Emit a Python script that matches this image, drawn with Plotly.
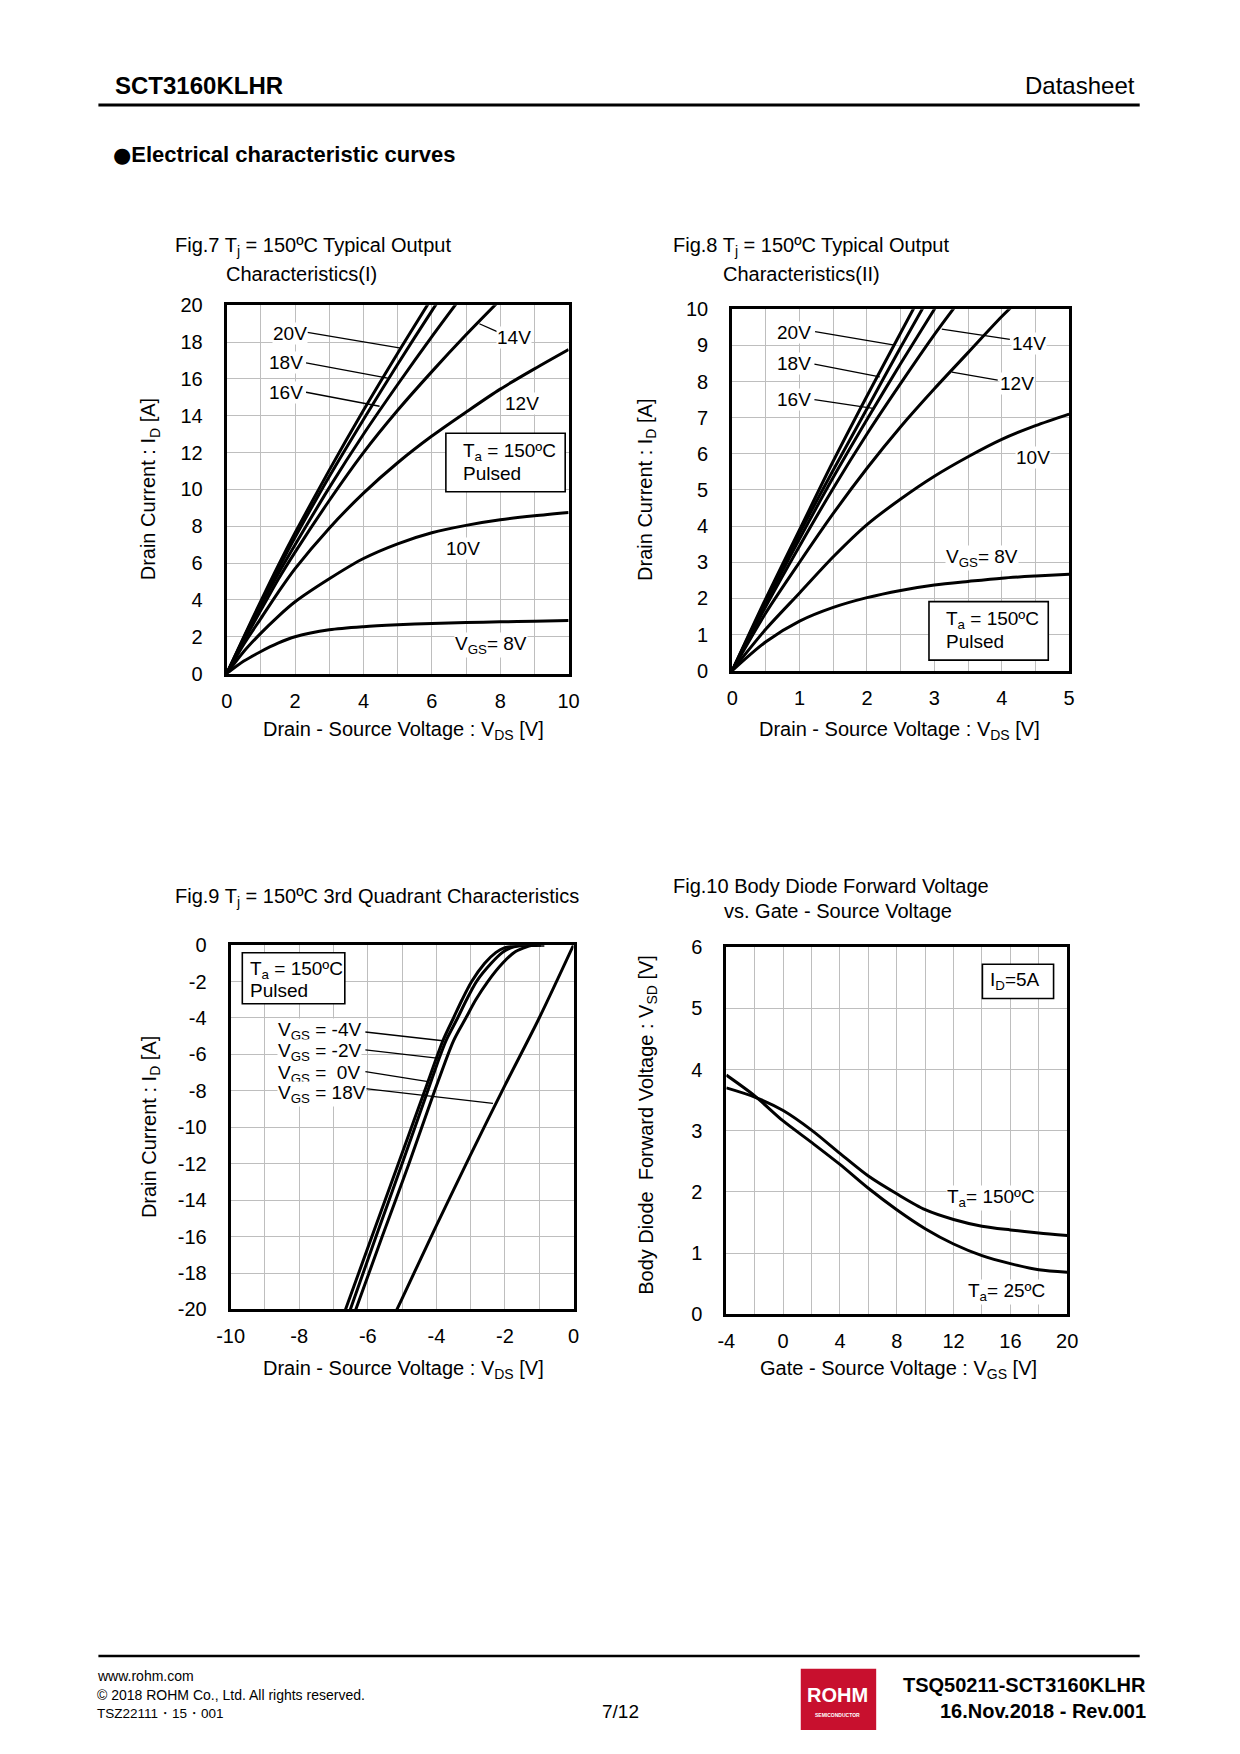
import plotly.graph_objects as go

# page coordinates are given in reference pixels (1240 x 1754); the figure is
# slightly smaller so that it fits the window together with the body margin.
PAGE_W, PAGE_H = 1240, 1754
M = 8
W, H = PAGE_W - 2 * M, PAGE_H - 2 * M
FONT = "Liberation Sans, Arial, Helvetica, sans-serif"
GRID = "#bebebe"

# ---------------- Data ----------------
# Fig.7  (VDS 0..10 V, ID 0..20 A)
f7_v_full = [0, 0.5, 1, 1.5, 2, 3, 4, 5, 6, 7, 8, 9, 10]
f7_id_8v = [0, 0.68, 1.2, 1.65, 2.0, 2.38, 2.55, 2.65, 2.72, 2.77, 2.81, 2.85, 2.88]
f7_id_10v = [0, 1.2, 2.2, 3.1, 3.9, 5.15, 6.25, 7.05, 7.65, 8.05, 8.35, 8.57, 8.75]
f7_id_12v = [0, 1.6, 3.0, 4.4, 5.7, 7.9, 9.8, 11.45, 12.9, 14.2, 15.45, 16.55, 17.6]
f7_v_14v = [0, 0.5, 1, 1.5, 2, 3, 4, 5, 6, 7, 8]
f7_id_14v = [0, 1.78, 3.45, 5.1, 6.6, 9.4, 12.0, 14.3, 16.4, 18.4, 20.3]
f7_v_16v = [0, 0.5, 1, 1.5, 2, 3, 4, 5, 6, 7]
f7_id_16v = [0, 1.88, 3.7, 5.4, 7.0, 10.1, 13.0, 15.7, 18.3, 20.8]
f7_v_18v = [0, 0.5, 1, 1.5, 2, 3, 4, 5, 6, 7]
f7_id_18v = [0, 1.95, 3.85, 5.65, 7.4, 10.7, 13.8, 16.8, 19.7, 22.5]
f7_v_20v = [0, 0.5, 1, 1.5, 2, 3, 4, 5, 6]
f7_id_20v = [0, 2.0, 3.95, 5.85, 7.65, 11.05, 14.3, 17.4, 20.4]
f7_xticks = [0, 2, 4, 6, 8, 10]
f7_xlabels = ["0", "2", "4", "6", "8", "10"]
f7_yticks = [0, 2, 4, 6, 8, 10, 12, 14, 16, 18, 20]
f7_ylabels = ["0", "2", "4", "6", "8", "10", "12", "14", "16", "18", "20"]

# Fig.8  (VDS 0..5 V, ID 0..10 A)
f8_v_full = [0, 0.5, 1, 1.5, 2, 2.5, 3, 3.5, 4, 4.5, 5]
f8_id_8v = [0, 0.8, 1.37, 1.75, 2.02, 2.22, 2.37, 2.47, 2.56, 2.62, 2.67]
f8_id_10v = [0, 1.15, 2.15, 3.15, 4.04, 4.75, 5.38, 5.92, 6.40, 6.78, 7.1]
f8_v_12v = [0, 0.5, 1, 1.5, 2, 2.5, 3, 3.5, 4, 4.5]
f8_id_12v = [0, 1.6, 3.0, 4.35, 5.6, 6.75, 7.8, 8.8, 9.8, 10.7]
f8_v_14v = [0, 0.5, 1, 1.5, 2, 2.5, 3, 3.5]
f8_id_14v = [0, 1.78, 3.45, 5.05, 6.55, 7.95, 9.3, 10.55]
f8_v_16v = [0, 0.5, 1, 1.5, 2, 2.5, 3, 3.5]
f8_id_16v = [0, 1.88, 3.65, 5.35, 6.95, 8.5, 10.0, 11.5]
f8_v_18v = [0, 0.5, 1, 1.5, 2, 2.5, 3]
f8_id_18v = [0, 1.95, 3.8, 5.55, 7.25, 8.95, 10.6]
f8_v_20v = [0, 0.5, 1, 1.5, 2, 2.5, 3]
f8_id_20v = [0, 2.0, 3.9, 5.8, 7.6, 9.35, 11.1]
f8_xticks = [0, 1, 2, 3, 4, 5]
f8_xlabels = ["0", "1", "2", "3", "4", "5"]
f8_yticks = [0, 1, 2, 3, 4, 5, 6, 7, 8, 9, 10]
f8_ylabels = ["0", "1", "2", "3", "4", "5", "6", "7", "8", "9", "10"]

# Fig.9  3rd quadrant (VDS -10..0 V, ID -20..0 A)
f9_v_m4v = [-1.05, -1.45, -1.75, -2.02, -2.26, -2.59, -2.97, -3.25, -3.50, -3.81, -4.34, -5.11, -5.88, -6.65]
f9_id_m4v = [0, -0.01, -0.05, -0.15, -0.4, -1, -2, -3, -4, -5.25, -8, -12, -16, -20]
f9_v_m2v = [-0.95, -1.35, -1.6, -1.83, -2.07, -2.40, -2.83, -3.12, -3.38, -3.72, -3.92, -4.25, -5.0, -5.76, -6.51]
f9_id_m2v = [0, -0.01, -0.05, -0.15, -0.4, -1, -2, -3, -4, -5.25, -6.22, -8, -12, -16, -20]
f9_v_0v = [-0.85, -1.15, -1.3, -1.45, -1.73, -2.07, -2.5, -2.85, -3.14, -3.5, -4.05, -4.8, -5.58, -6.35]
f9_id_0v = [0, -0.01, -0.05, -0.15, -0.4, -1, -2, -3, -4, -5.25, -8, -12, -16, -20]
f9_v_18v = [0, -1, -2, -3, -4, -5, -5.3]
f9_id_18v = [0, -4.0, -7.7, -11.5, -15.4, -19.4, -20.6]
f9_xticks = [-10, -8, -6, -4, -2, 0]
f9_xlabels = ["-10", "-8", "-6", "-4", "-2", "0"]
f9_yticks = [0, -2, -4, -6, -8, -10, -12, -14, -16, -18, -20]
f9_ylabels = ["0", "-2", "-4", "-6", "-8", "-10", "-12", "-14", "-16", "-18", "-20"]

# Fig.10  VSD vs VGS
f10_vgs = [-4, -2, 0, 2, 4, 6, 8, 10, 12, 14, 16, 18, 20]
f10_vsd_25c = [3.91, 3.57, 3.16, 2.81, 2.45, 2.06, 1.71, 1.40, 1.15, 0.96, 0.83, 0.73, 0.69]
f10_vsd_150c = [3.70, 3.55, 3.33, 3.01, 2.63, 2.26, 1.97, 1.71, 1.55, 1.44, 1.38, 1.33, 1.29]
f10_xticks = [-4, 0, 4, 8, 12, 16, 20]
f10_xlabels = ["-4", "0", "4", "8", "12", "16", "20"]
f10_yticks = [0, 1, 2, 3, 4, 5, 6]
f10_ylabels = ["0", "1", "2", "3", "4", "5", "6"]

# ---------------- Layout helpers ----------------
def px(x):
    return (x - M) / W

def py(y):
    return 1 - (y - M) / H

annotations = []
shapes = []

def ptext(x, y, text, size=20, xanchor="left", angle=0, color="black"):
    annotations.append(dict(xref="paper", yref="paper", x=px(x), y=py(y), text=text,
                            showarrow=False, xanchor=xanchor, yanchor="middle",
                            textangle=angle, font=dict(family=FONT, size=size, color=color)))

def dtext(ax, x, y, text, size=19, xanchor="center", bg="white"):
    annotations.append(dict(xref="x" + ax, yref="y" + ax, x=x, y=y, text=text,
                            showarrow=False, xanchor=xanchor, yanchor="middle",
                            bgcolor=bg, borderpad=0,
                            font=dict(family=FONT, size=size, color="black")))

def dline(ax, x0, y0, x1, y1, w=1.3):
    shapes.append(dict(type="line", xref="x" + ax, yref="y" + ax, x0=x0, y0=y0, x1=x1, y1=y1,
                       line=dict(color="black", width=w)))

def dbox(ax, x0, y0, x1, y1):
    shapes.append(dict(type="rect", xref="x" + ax, yref="y" + ax, x0=x0, y0=y0, x1=x1, y1=y1,
                       line=dict(color="black", width=1.6), fillcolor="white"))

fig = go.Figure()

def curve(ax, xs, ys):
    fig.add_trace(go.Scatter(x=xs, y=ys, mode="lines", xaxis="x" + ax, yaxis="y" + ax,
                             line=dict(color="black", width=3, shape="spline", smoothing=0.8),
                             showlegend=False, hoverinfo="skip"))

# Fig 7
curve("", f7_v_full, f7_id_8v)
curve("", f7_v_full, f7_id_10v)
curve("", f7_v_full, f7_id_12v)
curve("", f7_v_14v, f7_id_14v)
curve("", f7_v_16v, f7_id_16v)
curve("", f7_v_18v, f7_id_18v)
curve("", f7_v_20v, f7_id_20v)
# Fig 8
curve("2", f8_v_full, f8_id_8v)
curve("2", f8_v_full, f8_id_10v)
curve("2", f8_v_12v, f8_id_12v)
curve("2", f8_v_14v, f8_id_14v)
curve("2", f8_v_16v, f8_id_16v)
curve("2", f8_v_18v, f8_id_18v)
curve("2", f8_v_20v, f8_id_20v)
# Fig 9
curve("3", f9_v_m4v, f9_id_m4v)
curve("3", f9_v_m2v, f9_id_m2v)
curve("3", f9_v_0v, f9_id_0v)
curve("3", f9_v_18v, f9_id_18v)
# Fig 10
curve("4", f10_vgs, f10_vsd_25c)
curve("4", f10_vgs, f10_vsd_150c)

def xax(dom, rng, tv, tt, minor, anchor):
    return dict(domain=[px(dom[0]), px(dom[1])], range=rng, anchor=anchor,
                tickmode="array", tickvals=tv, ticktext=tt,
                showline=True, mirror=True, linecolor="black", linewidth=3,
                showgrid=True, gridcolor=GRID, gridwidth=1, zeroline=False,
                minor=dict(tickmode="linear", tick0=0, dtick=minor, showgrid=True,
                           gridcolor=GRID, gridwidth=1, ticks=""),
                ticks="", ticklabelstandoff=7,
                tickfont=dict(family=FONT, size=20, color="black"), fixedrange=True)

def yax(dom, rng, tv, tt, anchor):
    return dict(domain=[py(dom[1]), py(dom[0])], range=rng, anchor=anchor,
                tickmode="array", tickvals=tv, ticktext=tt,
                showline=True, mirror=True, linecolor="black", linewidth=3,
                showgrid=True, gridcolor=GRID, gridwidth=1, zeroline=False,
                ticks="", ticklabelstandoff=17,
                tickfont=dict(family=FONT, size=20, color="black"), fixedrange=True)

# plot rectangles in page pixels (left, right, top, bottom)
F7 = (217, 566, 298, 671)
F8 = (733, 1077, 302, 668)
F9 = (221, 571, 946, 1315)
F10 = (727, 1075, 948, 1320)

layout = dict(
    width=W, height=H, margin=dict(l=0, r=0, t=0, b=0),
    paper_bgcolor="white", plot_bgcolor="white", showlegend=False,
    xaxis=xax(F7[:2], [0, 10], f7_xticks, f7_xlabels, 1, "y"),
    yaxis=yax(F7[2:], [0, 20], f7_yticks, f7_ylabels, "x"),
    xaxis2=xax(F8[:2], [0, 5], f8_xticks, f8_xlabels, 0.5, "y2"),
    yaxis2=yax(F8[2:], [0, 10], f8_yticks, f8_ylabels, "x2"),
    xaxis3=xax(F9[:2], [-10, 0], f9_xticks, f9_xlabels, 1, "y3"),
    yaxis3=yax(F9[2:], [-20, 0], f9_yticks, f9_ylabels, "x3"),
    xaxis4=xax(F10[:2], [-4, 20], f10_xticks, f10_xlabels, 2, "y4"),
    yaxis4=yax(F10[2:], [0, 6], f10_yticks, f10_ylabels, "x4"),
)

# ---------------- Page header / footer ----------------
ptext(101, 75, "<b>SCT3160KLHR</b>", 24)
ptext(1146, 75, "Datasheet", 24, xanchor="right")
shapes.append(dict(type="line", xref="paper", yref="paper", x0=px(86), x1=px(1149), y0=py(95), y1=py(95),
                   line=dict(color="black", width=3)))
ptext(99, 145, "<span style='font-family:DejaVu Sans;font-size:21px'>●</span><b>Electrical characteristic curves</b>", 22)

shapes.append(dict(type="line", xref="paper", yref="paper", x0=px(86), x1=px(1149), y0=py(1666), y1=py(1666),
                   line=dict(color="black", width=2.5)))
ptext(83, 1686, "www.rohm.com", 14)
ptext(83, 1705, "© 2018 ROHM Co., Ltd. All rights reserved.", 14)
ptext(83, 1724, "TSZ22111・15・001", 13.5)
ptext(619, 1722, "7/12", 19, xanchor="center")
shapes.append(dict(type="rect", xref="paper", yref="paper", x0=px(803), x1=px(880), y0=py(1741), y1=py(1679),
                   line=dict(width=0), fillcolor="#c8102e"))
ptext(841, 1705, "<b>ROHM</b>", 20, xanchor="center", color="white")
ptext(841, 1726, "<b>SEMICONDUCTOR</b>", 5, xanchor="center", color="white")
ptext(1157, 1695, "<b>TSQ50211-SCT3160KLHR</b>", 20, xanchor="right")
ptext(1157, 1722, "<b>16.Nov.2018 - Rev.001</b>", 20, xanchor="right")

# ---------------- Fig 7 texts ----------------
ptext(162, 238, "Fig.7 T<sub>j</sub> = 150ºC Typical Output", 20)
ptext(214, 266, "Characteristics(I)", 20)
ptext(139, 484, "Drain Current : I<sub>D</sub> [A]", 20, xanchor="center", angle=-90)
ptext(397, 729, "Drain - Source Voltage : V<sub>DS</sub> [V]", 20, xanchor="center")
dline("", 2.36, 18.53, 5.09, 17.67)
dline("", 2.32, 16.87, 4.71, 16.05)
dline("", 2.32, 15.28, 4.47, 14.52)
dline("", 7.39, 19.0, 7.91, 18.57)
dtext("", 1.84, 18.49, "20V")
dtext("", 1.74, 16.87, "18V")
dtext("", 1.74, 15.24, "16V")
dtext("", 8.41, 18.24, "14V")
dtext("", 8.63, 14.67, "12V")
dtext("", 6.91, 6.78, "10V")
dtext("", 7.72, 1.53, "V<sub>GS</sub>= 8V")
dbox("", 6.41, 9.88, 9.90, 13.05)
dtext("", 6.88, 12.03, "T<sub>a</sub> = 150ºC", xanchor="left", bg=None)
dtext("", 6.88, 10.89, "Pulsed", xanchor="left", bg=None)

# ---------------- Fig 8 texts ----------------
ptext(671, 238, "Fig.8 T<sub>j</sub> = 150ºC Typical Output", 20)
ptext(722, 266, "Characteristics(II)", 20)
ptext(646, 485, "Drain Current : I<sub>D</sub> [A]", 20, xanchor="center", angle=-90)
ptext(904, 729, "Drain - Source Voltage : V<sub>DS</sub> [V]", 20, xanchor="center")
dline("2", 1.23, 9.38, 2.41, 9.01)
dline("2", 1.22, 8.48, 2.19, 8.13)
dline("2", 1.22, 7.50, 2.09, 7.26)
dline("2", 3.11, 9.45, 4.12, 9.17)
dline("2", 3.26, 8.26, 3.94, 8.04)
dtext("2", 0.91, 9.36, "20V")
dtext("2", 0.91, 8.50, "18V")
dtext("2", 0.91, 7.50, "16V")
dtext("2", 4.40, 9.04, "14V")
dtext("2", 4.23, 7.95, "12V")
dtext("2", 4.47, 5.91, "10V")
dtext("2", 3.70, 3.11, "V<sub>GS</sub>= 8V")
dbox("2", 2.92, 0.29, 4.69, 1.91)
dtext("2", 3.16, 1.39, "T<sub>a</sub> = 150ºC", xanchor="left", bg=None)
dtext("2", 3.16, 0.80, "Pulsed", xanchor="left", bg=None)

# ---------------- Fig 9 texts ----------------
ptext(162, 898, "Fig.9 T<sub>j</sub> = 150ºC 3rd Quadrant Characteristics", 20)
ptext(139, 1130, "Drain Current : I<sub>D</sub> [A]", 20, xanchor="center", angle=-90)
ptext(397, 1376, "Drain - Source Voltage : V<sub>DS</sub> [V]", 20, xanchor="center")
dbox("3", -9.66, -3.22, -6.67, -0.42)
dtext("3", -9.47, -1.39, "T<sub>a</sub> = 150ºC", xanchor="left", bg=None)
dtext("3", -9.47, -2.47, "Pulsed", xanchor="left", bg=None)
dline("3", -6.07, -4.77, -3.81, -5.25)
dline("3", -6.07, -5.75, -3.92, -6.22)
dline("3", -6.07, -6.95, -4.24, -7.49)
dline("3", -6.07, -7.88, -2.35, -8.69)
dtext("3", -8.64, -4.71, "V<sub>GS</sub> = -4V", xanchor="left")
dtext("3", -8.64, -5.85, "V<sub>GS</sub> = -2V", xanchor="left")
dtext("3", -8.64, -7.05, "V<sub>GS</sub> =  0V", xanchor="left")
dtext("3", -8.64, -8.15, "V<sub>GS</sub> = 18V", xanchor="left")

# ---------------- Fig 10 texts ----------------
ptext(671, 886, "Fig.10 Body Diode Forward Voltage", 20)
ptext(723, 911, "vs. Gate - Source Voltage", 20)
ptext(647, 1128, "Body Diode\u00a0\u00a0Forward Voltage : V<sub>SD</sub> [V]", 20, xanchor="center", angle=-90)
ptext(903, 1376, "Gate - Source Voltage : V<sub>GS</sub> [V]", 20, xanchor="center")
dbox("4", 14.03, 5.16, 19.04, 5.72)
dtext("4", 14.49, 5.44, "I<sub>D</sub>=5A", xanchor="left", bg=None)
dtext("4", 14.6, 1.90, "T<sub>a</sub>= 150ºC")
dtext("4", 15.75, 0.36, "T<sub>a</sub>= 25ºC")

layout["annotations"] = annotations
layout["shapes"] = shapes
fig.update_layout(**layout)

fig.write_html("out.html")
